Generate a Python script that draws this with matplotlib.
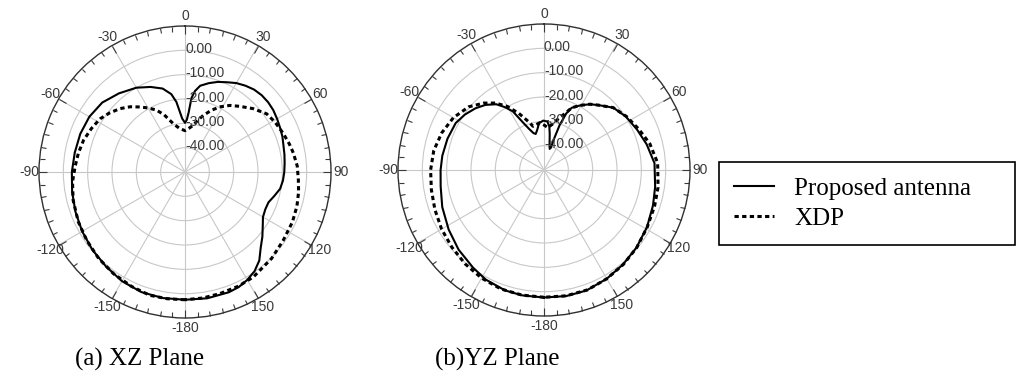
import numpy as np
import matplotlib.pyplot as plt
from matplotlib.lines import Line2D

## Data: angle [deg, clockwise from top], gain [dB]
xz_prop_ang = [-180, -170, -160, -150, -140, -130, -120, -110, -100, -90, -80, -70, -60, -50,
               -40, -30, -22, -15, -10, -7, -5, -3, 0, 2, 3.5, 5, 7, 10, 15, 20, 25, 30, 35,
               40, 45, 50, 55, 60, 65, 70, 75, 80, 85, 90, 95, 100, 105, 110, 115, 120, 125,
               130, 135, 140, 145, 150, 155, 160, 170, 180]
xz_prop_db = [2.5, 2.6, 2.5, 1.8, 0.6, -0.3, -1.2, -2.1, -2.9, -3.5, -4.0, -4.2, -4.6, -5.6,
              -7.8, -10.0, -12.3, -14.5, -17.5, -21.0, -25.0, -28.0, -29.8, -28.5, -25.5, -19.5, -16.5, -14.0, -12.2, -10.6, -9.3, -7.8, -6.7,
              -5.8, -5.4, -5.4, -5.7, -6.3, -6.9, -7.4, -8.1, -8.5, -8.9, -9.2, -9.6, -10.3, -12.0, -13.5, -13.6, -13.0, -11.0,
              -8.5, -6.0, -2.5, -0.2, 1.2, 2.2, 2.6, 2.7, 2.5]

xz_xdp_ang = [-180, -172, -164, -155, -145, -135, -125, -115, -104, -95, -87, -80, -72.7, -65,
              -58, -52, -45.7, -40, -34.7, -30, -24.7, -20, -13.6, -7, 0, 5, 10, 14, 18, 23, 28,
              34, 40, 47, 54.5, 61, 68.7, 75, 80, 87, 94, 100, 107, 115, 125, 135, 147, 155,
              164, 172, 180]
xz_xdp_db = [2.5, 2.6, 2.7, 1.9, 1.1, 0.2, -0.8, -1.6, -2.6, -3.6, -4.8, -5.5, -6.3, -7.6,
             -8.8, -10.6, -12.7, -15.0, -17.5, -19.6, -22.0, -25.0, -29.6, -32.0, -33.0, -32.0, -30.5, -28.0, -25.5, -22.5, -19.7,
             -17.0, -14.8, -11.8, -8.8, -7.7, -6.6, -5.6, -4.8, -3.8, -3.3, -2.6, -1.9, -1.3, -0.8, 0.3, 1.5, 1.8,
             2.0, 2.3, 2.5]

yz_prop_ang = [-180, -170, -162, -152, -144, -133, -122, -110, -99, -90, -82, -72, -62, -55,
               -48, -42, -36, -32, -28, -24, -20, -16, -13, -10, -6, -1, 4, 7, 9, 12, 15, 17,
               18, 19.2, 21.5, 24, 29.4, 35, 40, 48, 57, 66.6, 76, 86.5, 98.6, 108, 119, 130,
               140, 150, 160.6, 170, 180]
yz_prop_db = [2.4, 2.3, 2.0, 1.0, -0.4, -2.0, -3.8, -5.5, -7.0, -7.5, -7.8, -8.3, -8.9, -10.3,
              -12.1, -14.0, -16.6, -19.5, -22.7, -28.5, -32.0, -34.2, -34.8, -33.5, -30.7, -29.7, -30.0, -32.0, -35.0, -39.0, -41.0, -40.5,
              -36.0, -30.4, -25.0, -22.0, -19.5, -17.0, -15.2, -11.7, -9.8, -8.3, -6.5, -4.5, -3.8, -2.9, -1.6, -0.4,
              0.6, 1.6, 2.5, 2.6, 2.4]

yz_xdp_ang = [-180, -170, -160, -150, -140, -130, -120, -110, -100, -90, -80, -70, -60, -50,
              -42, -36, -30, -24, -18, -14, -9, -5, 0, 5, 10, 15, 20, 24, 29.4, 35, 40, 48, 57,
              66.6, 76, 86.5, 98.6, 108, 119, 130, 140, 150, 160, 170, 180]
yz_xdp_db = [2.3, 2.2, 2.0, 1.3, 0.4, -0.6, -1.4, -2.3, -3.0, -3.4, -4.0, -5.3, -7.0, -9.6,
             -13.0, -16.0, -19.8, -24.5, -29.0, -31.5, -31.0, -30.5, -31.5, -32.5, -31.0, -28.5, -25.5, -22.0, -19.5, -17.0, -15.2, -11.7, -9.6,
             -7.6, -5.2, -3.2, -2.6, -2.2, -1.5, -0.3, 0.7, 1.6, 2.4, 2.5, 2.3]

r_ticks = [-40, -30, -20, -10, 0]
r_tick_labels = ["-40.00", "-30.00", "-20.00", "-10.00", "0.00"]
theta_ticks = [0, 30, 60, 90, 120, 150, 180, 210, 240, 270, 300, 330]
theta_labels = ["0", "30", "60", "90", "120", "150", "-180", "-150", "-120", "-90", "-60", "-30"]

W, H = 1016, 378
fig = plt.figure(figsize=(W / 100, H / 100), dpi=100)
fig.patch.set_facecolor("white")

sans = ["Liberation Sans", "DejaVu Sans"]
serif = ["Liberation Serif", "DejaVu Serif"]
grey = "#3a3a3a"


def polar_panel(cx, cy, rad):
    ax = fig.add_axes([(cx - rad) / W, (H - cy - rad) / H, 2 * rad / W, 2 * rad / H],
                      projection="polar")
    ax.set_theta_zero_location("N")
    ax.set_theta_direction(-1)
    ax.set_rlim(-50, 10)
    ax.set_rgrids(r_ticks, labels=[""] * len(r_ticks))
    ax.set_thetagrids(theta_ticks, labels=theta_labels, fontsize=10, color=grey,
                      family=sans)
    ax.set_xticks(np.radians(np.arange(0, 360, 5)), minor=True)
    ax.tick_params(axis="x", which="both", bottom=False, top=True, direction="in",
                   colors=grey, width=0.8)
    ax.tick_params(axis="x", which="major", length=6, pad=0)
    ax.tick_params(axis="x", which="minor", length=3.5)
    ax.grid(True, which="major", color="#c8c8c8", lw=0.8)
    ax.spines["polar"].set_color("#303030")
    ax.spines["polar"].set_linewidth(1.0)
    for rv, lab in zip(r_ticks, r_tick_labels):
        ax.text(0, rv + 0.6, lab, ha="left", va="center", fontsize=10, color=grey,
                family=sans)
    return ax


def draw(ax, ang, db, **kw):
    return ax.plot(np.radians(ang), db, **kw)[0]


solid_kw = dict(color="black", lw=1.5)
dot_kw = dict(color="black", lw=2.2, linestyle=(0, (1.4, 1.1)))

ax1 = polar_panel(185, 172, 146)
draw(ax1, xz_prop_ang, xz_prop_db, **solid_kw)
draw(ax1, xz_xdp_ang, xz_xdp_db, **dot_kw)

ax2 = polar_panel(544, 170, 146)
draw(ax2, yz_prop_ang, yz_prop_db, **solid_kw)
draw(ax2, yz_xdp_ang, yz_xdp_db, **dot_kw)

fig.text(75 / W, 1 - 359 / H, "(a) XZ Plane", ha="left", va="center", fontsize=18,
         family=serif)
fig.text(435 / W, 1 - 359 / H, "(b)YZ Plane", ha="left", va="center", fontsize=18,
         family=serif)

leg = fig.legend([Line2D([], [], **solid_kw), Line2D([], [], **dot_kw)],
                 ["Proposed antenna", "XDP"],
                 loc="upper left", bbox_to_anchor=(719 / W, 1 - 166 / H, 296 / W, 0.01),
                 mode="expand", prop={"family": serif, "size": 18}, fancybox=False,
                 framealpha=1, edgecolor="black", handlelength=1.6, handletextpad=0.8,
                 labelspacing=0.3, borderpad=0.6, borderaxespad=0)
leg.get_frame().set_linewidth(1.2)

plt.savefig("out.png", dpi=100)
